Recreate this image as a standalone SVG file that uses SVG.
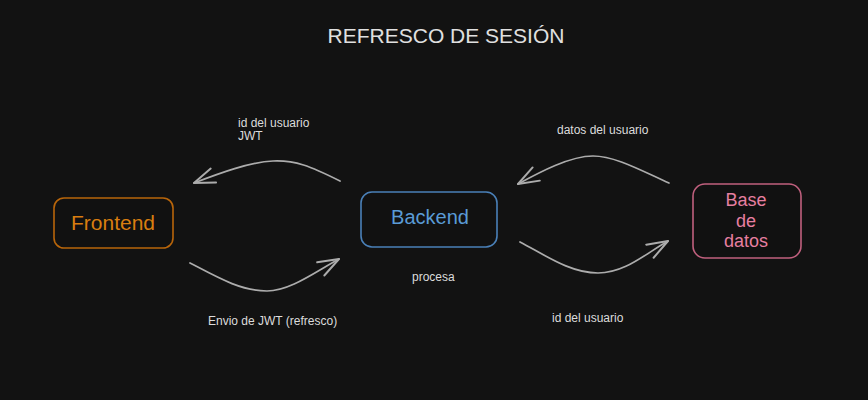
<svg xmlns="http://www.w3.org/2000/svg" width="868" height="400" viewBox="0 0 868 400">
  <style>
    .lbl { font-family: "Liberation Sans", Arial, sans-serif; font-size: 12px; fill: #dcdcdc; }
    .title { font-family: "Liberation Sans", Arial, sans-serif; font-size: 21px; fill: #e0e0e0; }
    .node rect { stroke-width: 1.6; fill: #111111; }
    .node text { font-family: "Liberation Sans", Arial, sans-serif; text-anchor: middle; }
    .conn path { fill: none; stroke: #acacac; stroke-width: 1.7; stroke-linecap: round; }
  </style>
  <defs>
    <marker id="head" markerUnits="userSpaceOnUse" markerWidth="30" markerHeight="30" viewBox="-22 -12 26 24" refX="0" refY="0" orient="auto">
      <path d="M-18,-6.5 L0,0 L-18,6.5" fill="none" stroke="#acacac" stroke-width="1.7" stroke-linecap="round" stroke-linejoin="round"/>
    </marker>
  </defs>
  <rect width="868" height="400" fill="#121212"/>
  <text class="title" x="446" y="43" text-anchor="middle">REFRESCO DE SESIÓN</text>

  <g id="frontend" class="node">
    <rect x="54" y="198" width="119" height="50" rx="10" stroke="#b8650a"/>
    <text x="113" y="230" font-size="21" fill="#d97e10">Frontend</text>
  </g>
  <g id="backend" class="node">
    <rect x="361" y="192" width="136" height="55" rx="11" stroke="#4a80b8"/>
    <text x="430" y="224" font-size="20" fill="#5a9bd6">Backend</text>
  </g>
  <g id="basededatos" class="node">
    <rect x="693" y="184" width="108" height="74" rx="12" stroke="#c0607e"/>
    <text x="746" y="205.5" font-size="18" fill="#e67fa0">Base</text>
    <text x="746" y="226.5" font-size="18" fill="#e67fa0">de</text>
    <text x="746" y="246.5" font-size="18" fill="#e67fa0">datos</text>
  </g>

  <g id="connectors" class="conn">
    <path d="M340,181 C310,166 295,160 273,161 C250,162 220,173 194,183" marker-end="url(#head)"/>
    <path d="M190,263 C215,276 240,291 267,291 C290,291 315,272 339,259" marker-end="url(#head)"/>
    <path d="M669,183 C640,170 615,156 593,156 C570,156 540,172 518,184" marker-end="url(#head)"/>
    <path d="M520,242 C545,255 570,273 598,273 C625,273 645,254 668,241" marker-end="url(#head)"/>
  </g>

  <g id="labels">
    <text class="lbl" x="238" y="127">id del usuario</text>
    <text class="lbl" x="238" y="140">JWT</text>
    <text class="lbl" x="208" y="325">Envio de JWT (refresco)</text>
    <text class="lbl" x="557" y="134">datos del usuario</text>
    <text class="lbl" x="412" y="281">procesa</text>
    <text class="lbl" x="552" y="322">id del usuario</text>
  </g>
</svg>
